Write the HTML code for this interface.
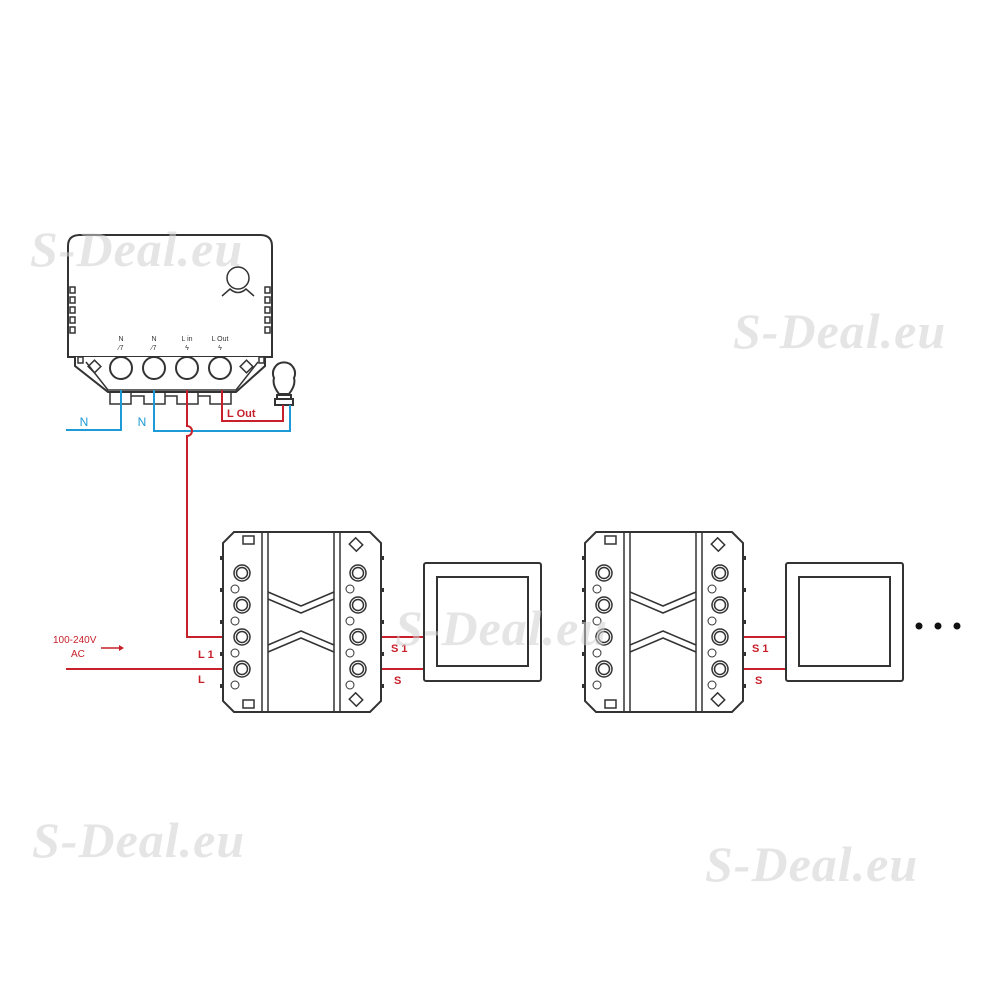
<!DOCTYPE html>
<html><head><meta charset="utf-8"><style>
html,body{margin:0;padding:0;background:#fff;}
svg{display:block}
.wm{font-family:"Liberation Serif",serif;font-weight:bold;font-style:italic;font-size:50px;fill:#d0d0d0;fill-opacity:0.55;letter-spacing:1px}
.lbl{font-family:"Liberation Sans",sans-serif;font-size:11px;fill:#c8202a;font-weight:bold}
</style></head><body>
<svg width="1000" height="1000" viewBox="0 0 1000 1000" xmlns="http://www.w3.org/2000/svg">
<rect width="1000" height="1000" fill="#fff"/>

<!-- top module -->
<g fill="none" stroke="#333" stroke-width="2">
<path d="M68,357 V246 Q68,235 80,235 H260 Q272,235 272,246 V357 Z" fill="#fff"/>
<path d="M75,357 L75,366 L108,392 H236 L265,366 V357" fill="#fff"/>
<path d="M86,362 L108,390 H236 L258,362" stroke-width="1.5"/>
<g stroke-width="1.5">
<rect x="70" y="287" width="5" height="6"/><rect x="70" y="297" width="5" height="6"/><rect x="70" y="307" width="5" height="6"/><rect x="70" y="317" width="5" height="6"/><rect x="70" y="327" width="5" height="6"/>
<rect x="265" y="287" width="5" height="6"/><rect x="265" y="297" width="5" height="6"/><rect x="265" y="307" width="5" height="6"/><rect x="265" y="317" width="5" height="6"/><rect x="265" y="327" width="5" height="6"/>
</g>
<circle cx="238" cy="278" r="11" stroke-width="1.5"/>
<path d="M222,296 L230,289 Q238,296 246,289 L254,296" stroke-width="1.5"/>
<circle cx="121" cy="368" r="11"/><circle cx="154" cy="368" r="11"/><circle cx="187" cy="368" r="11"/><circle cx="220" cy="368" r="11"/>
<rect x="90" y="362" width="9" height="9" transform="rotate(45 94.5 366.5)" stroke-width="1.5"/>
<rect x="242" y="362" width="9" height="9" transform="rotate(45 246.5 366.5)" stroke-width="1.5"/>
<rect x="78" y="357" width="5" height="6" stroke-width="1.5"/><rect x="259" y="357" width="5" height="6" stroke-width="1.5"/>
<path d="M110,392 V404 H131 V392 M131,396 H144 V404 H165 V392 M165,396 H177 V404 H198 V392 M198,396 H210 V404 H231 V392" stroke-width="1.5"/>
</g>
<g font-family="Liberation Sans,sans-serif" font-size="7" fill="#333" text-anchor="middle">
<text x="121" y="341">N</text><text x="154" y="341">N</text><text x="187" y="341">L in</text><text x="220" y="341">L Out</text>
<text x="121" y="350">⁄7</text><text x="154" y="350">⁄7</text><text x="187" y="350">ϟ</text><text x="220" y="350">ϟ</text>
</g>
<!-- bulb -->
<g fill="#fff" stroke="#333" stroke-width="2">
<path d="M279,394 Q272,385 274,378 A11,11 0 1 1 294,378 Q296,385 289,394 Z"/>
<rect x="277" y="395" width="14" height="4"/>
<rect x="275" y="399" width="18" height="6"/>
</g>
<!-- wires -->
<g fill="none" stroke-width="2">
<path d="M66,430 H121 V390" stroke="#1e9ad6"/>
<path d="M154,390 V431 H290 V405" stroke="#1e9ad6"/>
<path d="M222,390 V421 H283 V405" stroke="#c8202a"/>
<path d="M187,390 V426 A5,5 0 0 1 187,436 V637 H223" stroke="#c8202a"/>
<path d="M66,669 H223" stroke="#c8202a"/>
<path d="M381,637 H424 M381,669 H424" stroke="#c8202a"/>
<path d="M743,637 H785 M743,669 H785" stroke="#c8202a"/>
<path d="M101,648 H119" stroke="#c8202a" stroke-width="1.5"/>
</g>
<path d="M119,645 L124,648 L119,651 Z" fill="#c8202a"/>
<text x="84" y="426" font-family="Liberation Sans,sans-serif" font-size="12" fill="#1e9ad6" text-anchor="middle">N</text>
<text x="142" y="426" font-family="Liberation Sans,sans-serif" font-size="12" fill="#1e9ad6" text-anchor="middle">N</text>
<text x="227" y="417" class="lbl" font-size="12">L Out</text>
<text x="53" y="643" font-family="Liberation Sans,sans-serif" font-size="10" fill="#c8202a">100-240V</text>
<text x="71" y="657" font-family="Liberation Sans,sans-serif" font-size="10" fill="#c8202a">AC</text>
<text x="198" y="658" class="lbl">L 1</text><text x="198" y="683" class="lbl">L</text>
<text x="391" y="652" class="lbl">S 1</text><text x="394" y="684" class="lbl">S</text>
<text x="752" y="652" class="lbl">S 1</text><text x="755" y="684" class="lbl">S</text>

<defs>
<g id="mod">
<g fill="none" stroke="#333" stroke-width="2">
<path d="M11,0 H147 L158,11 V169 L147,180 H11 L0,169 V11 Z" fill="#fff"/>
<path d="M39,0 V180 M45,0 V180 M117,0 V180 M111,0 V180" stroke-width="1.5"/>
<path d="M45,60 L78,74 L111,60 M45,67 L78,81 L111,67" stroke-width="1.5"/>
<path d="M45,113 L78,99 L111,113 M45,120 L78,106 L111,120" stroke-width="1.5"/>
<rect x="20" y="4" width="11" height="8" stroke-width="1.5"/>
<rect x="20" y="168" width="11" height="8" stroke-width="1.5"/>
<rect x="128" y="8" width="10" height="9" transform="rotate(45 133 12.5)" stroke-width="1.5"/>
<rect x="128" y="163" width="10" height="9" transform="rotate(45 133 167.5)" stroke-width="1.5"/>
<g stroke-width="1.5">
<circle cx="19" cy="41" r="8"/><circle cx="19" cy="41" r="5.5"/>
<circle cx="19" cy="73" r="8"/><circle cx="19" cy="73" r="5.5"/>
<circle cx="19" cy="105" r="8"/><circle cx="19" cy="105" r="5.5"/>
<circle cx="19" cy="137" r="8"/><circle cx="19" cy="137" r="5.5"/>
<circle cx="135" cy="41" r="8"/><circle cx="135" cy="41" r="5.5"/>
<circle cx="135" cy="73" r="8"/><circle cx="135" cy="73" r="5.5"/>
<circle cx="135" cy="105" r="8"/><circle cx="135" cy="105" r="5.5"/>
<circle cx="135" cy="137" r="8"/><circle cx="135" cy="137" r="5.5"/>
</g>
<g stroke-width="1">
<circle cx="12" cy="57" r="4"/><circle cx="12" cy="89" r="4"/><circle cx="12" cy="121" r="4"/><circle cx="12" cy="153" r="4"/>
<circle cx="127" cy="57" r="4"/><circle cx="127" cy="89" r="4"/><circle cx="127" cy="121" r="4"/><circle cx="127" cy="153" r="4"/>
</g>
</g>
<g fill="#333">
<rect x="-3" y="24" width="3" height="4"/><rect x="-3" y="56" width="3" height="4"/><rect x="-3" y="88" width="3" height="4"/><rect x="-3" y="120" width="3" height="4"/><rect x="-3" y="152" width="3" height="4"/>
<rect x="158" y="24" width="3" height="4"/><rect x="158" y="56" width="3" height="4"/><rect x="158" y="88" width="3" height="4"/><rect x="158" y="120" width="3" height="4"/><rect x="158" y="152" width="3" height="4"/>
</g>
</g>
<g id="pan" fill="none" stroke="#333" stroke-width="2">
<rect x="0" y="0" width="117" height="118" rx="2" fill="#fff"/>
<rect x="13" y="14" width="91" height="89"/>
</g>
</defs>
<use href="#mod" x="223" y="532"/>
<use href="#mod" x="585" y="532"/>
<use href="#pan" x="424" y="563"/>
<use href="#pan" x="786" y="563"/>
<circle cx="919" cy="626" r="3.5" fill="#111"/><circle cx="938" cy="626" r="3.5" fill="#111"/><circle cx="957" cy="626" r="3.5" fill="#111"/>

<text class="wm" x="30" y="266">S-Deal.eu</text>
<text class="wm" x="733" y="348">S-Deal.eu</text>
<text class="wm" x="395" y="645">S-Deal.eu</text>
<text class="wm" x="32" y="857">S-Deal.eu</text>
<text class="wm" x="705" y="881">S-Deal.eu</text>
</svg>
</body></html>
